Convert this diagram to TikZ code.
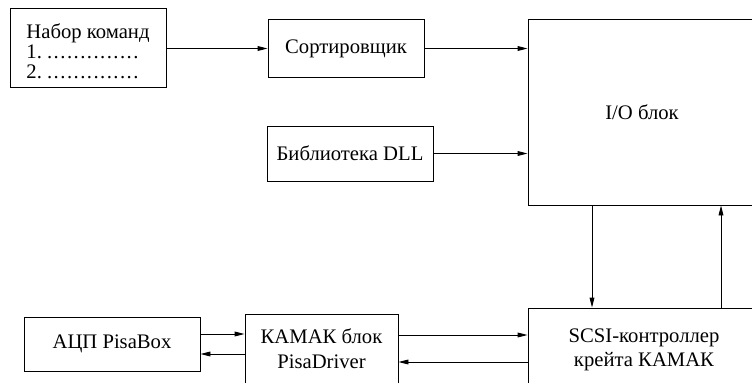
\documentclass[tikz,border=0pt]{standalone}
\usepackage{fontspec}
\setmainfont{Liberation Serif}
\usetikzlibrary{arrows.meta}

% row of dots for the command list
\newcommand{\dotrow}{\foreach \k in {1,...,14}{.\kern1.1pt}}

\begin{document}
\begin{tikzpicture}[x=0.75pt, y=-0.75pt,
        box/.style={draw, line width=0.7pt, inner sep=0pt, font=\fontsize{15.5pt}{15pt}\selectfont},
        arr/.style={line width=0.7pt, -{Triangle[length=7.5pt, width=3.6pt]}}]

        % Frame
        \useasboundingbox (0,0) rectangle (752,382);
        \clip (0,0) rectangle (752,382);

        % Blocks
        \node[box, minimum width=156*0.75pt, minimum height=79*0.75pt, align=left] (cmds) at (88,47.5)
            {\rule{0pt}{17pt}Набор команд\\1.~\dotrow\\2.~\dotrow};
        \node[box, minimum width=156*0.75pt, minimum height=58*0.75pt] (sort) at (346,48.5) {Сортировщик};
        \node[box, minimum width=166*0.75pt, minimum height=55*0.75pt] (dll) at (350,153.5) {Библиотека DLL};
        \node[box, minimum width=228*0.75pt, minimum height=186*0.75pt] (io) at (642,112) {I/O блок};
        \node[box, minimum width=232*0.75pt, minimum height=84*0.75pt, align=center] (scsi) at (644,350)
            {SCSI-контроллер\\[3.5pt]крейта КАМАК};
        \node[box, minimum width=153*0.75pt, minimum height=70*0.75pt, align=center] (kamak) at (321.5,349)
            {КАМАК блок\\[3.5pt]PisaDriver};
        \node[box, minimum width=176*0.75pt, minimum height=54*0.75pt] (adc) at (112,344) {АЦП PisaBox};

        % Arrows, top part
        \draw[arr] (cmds.east |- sort.west) -- (sort.west);
        \draw[arr] (sort.east) -- (sort.east -| io.west);
        \draw[arr] (dll.east) -- (dll.east -| io.west);

        % Arrows between I/O and SCSI
        \draw[arr] ([xshift=-50*0.75pt]io.south) -- ([xshift=-50*0.75pt]io.south |- scsi.north);
        \draw[arr] ([xshift=79*0.75pt]io.south |- scsi.north) -- ([xshift=79*0.75pt]io.south);

        % Arrows, bottom part
        \draw[arr] ([yshift=10*0.75pt]adc.east) -- ([yshift=10*0.75pt]adc.east -| kamak.west);
        \draw[arr] ([yshift=-10*0.75pt]adc.east -| kamak.west) -- ([yshift=-10*0.75pt]adc.east);
        \draw[arr] ([yshift=14*0.75pt]kamak.east) -- ([yshift=14*0.75pt]kamak.east -| scsi.west);
        \draw[arr] ([yshift=-13*0.75pt]kamak.east -| scsi.west) -- ([yshift=-13*0.75pt]kamak.east);

    \end{tikzpicture}
\end{document}
